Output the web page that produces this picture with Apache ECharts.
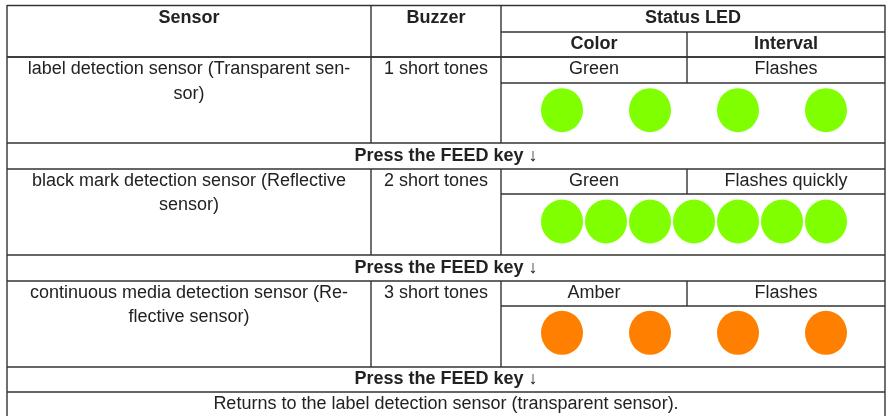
<!DOCTYPE html>
<html>
<head>
<meta charset="utf-8">
<script src="https://cdn.jsdelivr.net/npm/echarts@6/dist/echarts.min.js"></script>
<style>html,body{margin:0;padding:0;background:#fff}#c{width:887px;height:416px}</style>
</head>
<body>
<div id="c"></div>
<script>
// ---- data ----
const headers = ['Sensor', 'Buzzer', 'Status LED'];
const subHeaders = ['Color', 'Interval'];
const sensorLines = [
  ['label detection sensor (Transparent sen-', 'sor)'],
  ['black mark detection sensor (Reflective', 'sensor)'],
  ['continuous media detection sensor (Re-', 'flective sensor)']
];
const buzzer = ['1 short tones', '2 short tones', '3 short tones'];
const ledColors = ['Green', 'Green', 'Amber'];
const intervals = ['Flashes', 'Flashes quickly', 'Flashes'];
const pressText = 'Press the FEED key \u2193';
const footerText = 'Returns to the label detection sensor (transparent sensor).';
const rowNames = ['label', 'black mark', 'continuous media'];
// LED lit time slots (0..6) for each row
const litSlots = [
  [0, 2, 4, 6],
  [0, 1, 2, 3, 4, 5, 6],
  [0, 2, 4, 6]
];
const ledFill = { Green: '#80ff00', Amber: '#ff8000' };

// ---- layout ----
const X0 = 7, X1 = 371, X2 = 501, X3 = 687, X4 = 885;
const rowTop = [57, 169, 281];     // top of each sensor row
const rowMid = [83, 194, 306];     // colour/interval separator
const rowBot = [143, 255, 367];    // bottom of each sensor row
const LC = '#333', LW = 1.4, TC = '#222';
const FONT = 'Liberation Sans, Arial, Helvetica, sans-serif';

const g = [];
function hl(y, xa, xb) { g.push({ type: 'line', shape: { x1: xa, y1: y, x2: xb, y2: y }, style: { stroke: LC, lineWidth: LW } }); }
function vl(x, ya, yb) { g.push({ type: 'line', shape: { x1: x, y1: ya, x2: x, y2: yb }, style: { stroke: LC, lineWidth: LW } }); }
function tx(s, x, y, bold) {
  g.push({ type: 'text', x: x, y: y, style: { text: s, fill: TC, font: (bold ? 'bold ' : '') + '18px ' + FONT, textAlign: 'center', textVerticalAlign: 'middle' } });
}
// outer / header
hl(5.5, X0, X4); hl(32, X2, X4); hl(57, X0, X4);
vl(X0, 5, 416); vl(X4, 5, 416);
vl(X1, 5, 57); vl(X2, 5, 57); vl(X3, 32, 57);
tx(headers[0], (X0 + X1) / 2, 18, true);
tx(headers[1], (X1 + X2) / 2, 18, true);
tx(headers[2], (X2 + X4) / 2, 18, true);
tx(subHeaders[0], (X2 + X3) / 2, 44, true);
tx(subHeaders[1], (X3 + X4) / 2, 44, true);
for (let i = 0; i < 3; i++) {
  const t = rowTop[i], m = rowMid[i], b = rowBot[i];
  hl(t, X0, X4); hl(m, X2, X4); hl(b, X0, X4);
  vl(X1, t, b); vl(X2, t, b); vl(X3, t, m);
  const ty = (t + m) / 2 - 0.5;
  tx(sensorLines[i][0], (X0 + X1) / 2, ty, false);
  tx(sensorLines[i][1], (X0 + X1) / 2, ty + 24.5, false);
  tx(buzzer[i], (X1 + X2) / 2, ty, false);
  tx(ledColors[i], (X2 + X3) / 2, ty, false);
  tx(intervals[i], (X3 + X4) / 2, ty, false);
  const pt = b, pb = i < 2 ? rowTop[i + 1] : 392;
  tx(pressText, (X0 + X4) / 2, (pt + pb) / 2, true);
}
hl(392, X0, X4);
tx(footerText, (X0 + X4) / 2, 404, false);

// scatter data built from the arrays
const series = rowNames.map((name, i) => ({
  type: 'scatter',
  name: name,
  symbol: 'circle',
  symbolSize: [42, 44],
  itemStyle: { color: ledFill[ledColors[i]], opacity: 1 },
  silent: true,
  data: litSlots[i].map(s => [s, name])
}));

const chart = echarts.init(document.getElementById('c'), null, { renderer: 'canvas' });
chart.setOption({
  backgroundColor: '#fff',
  animation: false,
  grid: { left: 518, width: 352, top: 54.5, height: 334, containLabel: false },
  xAxis: { type: 'value', min: -1, max: 7, show: false },
  yAxis: { type: 'category', data: rowNames, inverse: true, show: false },
  series: series,
  graphic: g
});
</script>
</body>
</html>
